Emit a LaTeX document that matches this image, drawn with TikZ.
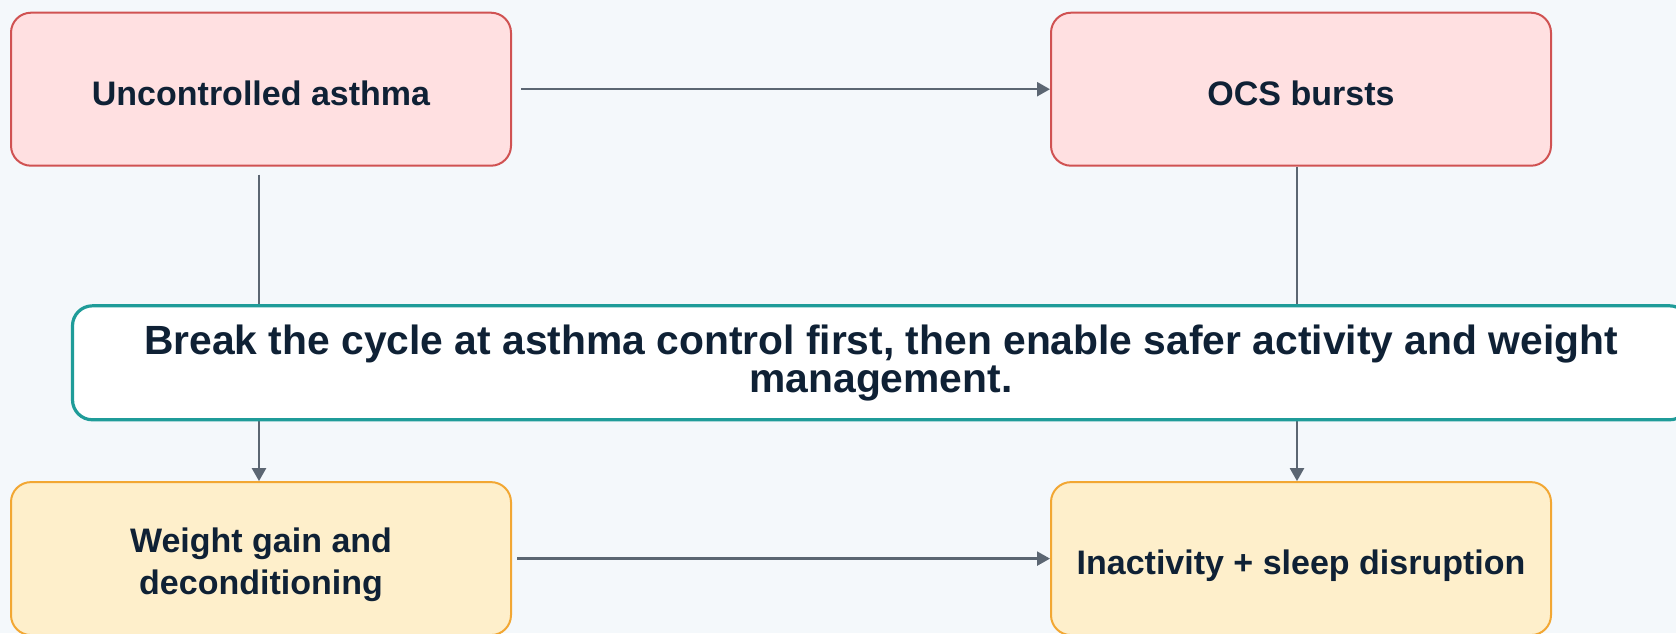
\documentclass[tikz,border=0pt]{standalone}
\usepackage{fontspec}
\setmainfont{Liberation Sans}
\usetikzlibrary{arrows.meta}

\definecolor{bgcol}{HTML}{F4F8FB}
\definecolor{redfill}{HTML}{FFE0E1}
\definecolor{redline}{HTML}{D05252}
\definecolor{ambfill}{HTML}{FEEFCB}
\definecolor{ambline}{HTML}{F2A733}
\definecolor{tealline}{HTML}{1F9C99}
\definecolor{arrcol}{HTML}{5B6672}
\definecolor{txtcol}{HTML}{0F2135}

\begin{document}
\begin{tikzpicture}[
    box/.style={rounded corners=10pt, line width=1pt, minimum width=250pt,
        minimum height=76.5pt, align=center, text=txtcol,
        text height=19.8pt, text depth=4pt,
        font=\fontsize{17}{21}\selectfont\bfseries},
    redbox/.style={box, draw=redline, fill=redfill},
    ambbox/.style={box, draw=ambline, fill=ambfill},
    link/.style={draw=arrcol, line width=1.2pt, -{Triangle[length=6.5pt,width=7pt]}}]
    \useasboundingbox (0,0) rectangle (838pt,-316.5pt);
    \fill[bgcol] (0,0) rectangle (838pt,-316.5pt);
    % the four stages of the cycle
    \node[redbox] (unc) at (130.5pt,-44.6pt) {Uncontrolled asthma};
    \node[redbox] (ocs) at (650.5pt,-44.6pt) {OCS bursts};
    \node[ambbox, text height=39.4pt] (wgt) at (130.5pt,-279.3pt)
        {Weight gain and\\ deconditioning};
    \node[ambbox] (ina) at (650.5pt,-279.3pt) {Inactivity + sleep disruption};
    \draw[link, shorten <=4.5pt] (unc) -- (ocs);
    \draw[link, shorten <=4pt] ([xshift=-1pt]unc.south) -- ([xshift=-1pt]wgt.north);
    \draw[link] ([xshift=-2pt]ocs.south) -- ([xshift=-2pt]ina.north);
    \draw[link, shorten <=2.5pt] (wgt) -- (ina);
    % banner across the middle, over the links
    \node[draw=tealline, line width=1.6pt, fill=white, rounded corners=10pt,
        minimum width=808.5pt, minimum height=57pt, align=center, text=txtcol,
        font=\fontsize{20.4}{19.2}\selectfont\bfseries] (note) at (440.5pt,-181.4pt)
        {Break the cycle at asthma control first, then enable safer activity and weight\\ management.};
\end{tikzpicture}
\end{document}
